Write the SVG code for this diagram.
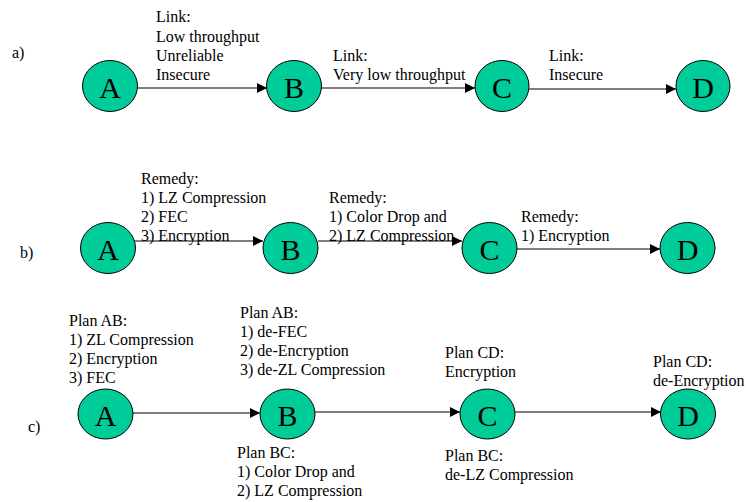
<svg xmlns="http://www.w3.org/2000/svg" width="746" height="502" viewBox="0 0 746 502" font-family="'Liberation Serif', 'Times New Roman', Tinos, 'DejaVu Serif', serif">
  <defs>
    <marker id="arrow" viewBox="0 0 10 10" refX="10" refY="5" markerWidth="10" markerHeight="10" markerUnits="userSpaceOnUse" orient="auto">
      <path d="M0,0 L10,5 L0,10 Z" fill="#000"/>
    </marker>
  </defs>
  <style>
    text { font-family: "Liberation Serif", "Times New Roman", Tinos, "DejaVu Serif", serif; }
    .node ellipse { fill: #00CC99; stroke: #000; stroke-width: 1; }
    .node text { font-size: 30px; text-anchor: middle; fill: #000; }
    .edge { stroke: #000; stroke-width: 1.2; fill: none; marker-end: url(#arrow); }
    .lbl { font-size: 16px; fill: #000; }
  </style>
  <rect width="746" height="502" fill="#fff"/>

  <!-- row a) -->
  <text class="lbl" x="12" y="58">a)</text>
  <g id="connectors-a">
    <line class="edge" x1="138" y1="88" x2="267" y2="88"/>
    <line class="edge" x1="321" y1="88" x2="475" y2="88"/>
    <line class="edge" x1="529" y1="89" x2="676" y2="89"/>
  </g>
  <g id="a-A" class="node"><ellipse cx="110" cy="86" rx="27.5" ry="25.5"/><text x="110" y="98">A</text></g>
  <g id="a-B" class="node"><ellipse cx="294" cy="86" rx="27.5" ry="25.5"/><text x="294" y="98">B</text></g>
  <g id="a-C" class="node"><ellipse cx="502" cy="86" rx="27" ry="25.5"/><text x="502" y="98">C</text></g>
  <g id="a-D" class="node"><ellipse cx="703" cy="86" rx="27" ry="25.5"/><text x="703" y="98">D</text></g>
  <g id="labels-a" class="lbl">
    <text x="156" y="22">Link:</text>
    <text x="156" y="41.5">Low throughput</text>
    <text x="156" y="61">Unreliable</text>
    <text x="156" y="80">Insecure</text>
    <text x="333" y="61">Link:</text>
    <text x="333" y="80">Very low throughput</text>
    <text x="549" y="61">Link:</text>
    <text x="549" y="80">Insecure</text>
  </g>

  <!-- row b) -->
  <text class="lbl" x="20" y="258">b)</text>
  <g id="connectors-b">
    <line class="edge" x1="135" y1="241" x2="263" y2="241"/>
    <line class="edge" x1="318" y1="241" x2="462" y2="241"/>
    <line class="edge" x1="515" y1="249" x2="660" y2="249"/>
  </g>
  <g id="b-A" class="node"><ellipse cx="108" cy="248" rx="27.5" ry="25.5"/><text x="108" y="260">A</text></g>
  <g id="b-B" class="node"><ellipse cx="290.5" cy="248" rx="27.5" ry="25.5"/><text x="290.5" y="260">B</text></g>
  <g id="b-C" class="node"><ellipse cx="489.5" cy="248" rx="27.5" ry="25.5"/><text x="489.5" y="260">C</text></g>
  <g id="b-D" class="node"><ellipse cx="687.5" cy="248" rx="27.5" ry="25.5"/><text x="687.5" y="260">D</text></g>
  <g id="labels-b" class="lbl">
    <text x="141" y="184">Remedy:</text>
    <text x="141" y="203">1) LZ Compression</text>
    <text x="141" y="222">2) FEC</text>
    <text x="141" y="241">3) Encryption</text>
    <text x="329" y="203">Remedy:</text>
    <text x="329" y="222">1) Color Drop and</text>
    <text x="329" y="241">2) LZ Compression</text>
    <text x="521" y="222">Remedy:</text>
    <text x="521" y="241">1) Encryption</text>
  </g>

  <!-- row c) -->
  <text class="lbl" x="28" y="432">c)</text>
  <g id="connectors-c">
    <line class="edge" x1="133" y1="413" x2="260" y2="413"/>
    <line class="edge" x1="315" y1="412" x2="460" y2="412"/>
    <line class="edge" x1="515" y1="412" x2="661" y2="412"/>
  </g>
  <g id="c-A" class="node"><ellipse cx="105.5" cy="414" rx="27.5" ry="25"/><text x="105.5" y="426">A</text></g>
  <g id="c-B" class="node"><ellipse cx="287.5" cy="414" rx="27.5" ry="25"/><text x="287.5" y="426">B</text></g>
  <g id="c-C" class="node"><ellipse cx="487.5" cy="414" rx="27.5" ry="25"/><text x="487.5" y="426">C</text></g>
  <g id="c-D" class="node"><ellipse cx="688" cy="414" rx="27.5" ry="25"/><text x="688" y="426">D</text></g>
  <g id="labels-c" class="lbl">
    <text x="69" y="326">Plan AB:</text>
    <text x="69" y="345">1) ZL Compression</text>
    <text x="69" y="364">2) Encryption</text>
    <text x="69" y="383">3) FEC</text>
    <text x="240" y="318">Plan AB:</text>
    <text x="240" y="337">1) de-FEC</text>
    <text x="240" y="356">2) de-Encryption</text>
    <text x="240" y="375">3) de-ZL Compression</text>
    <text x="237" y="458">Plan BC:</text>
    <text x="237" y="477">1) Color Drop and</text>
    <text x="237" y="496">2) LZ Compression</text>
    <text x="445" y="358">Plan CD:</text>
    <text x="445" y="377">Encryption</text>
    <text x="445" y="461">Plan BC:</text>
    <text x="445" y="480">de-LZ Compression</text>
    <text x="653" y="367">Plan CD:</text>
    <text x="653" y="386">de-Encryption</text>
  </g>
</svg>
